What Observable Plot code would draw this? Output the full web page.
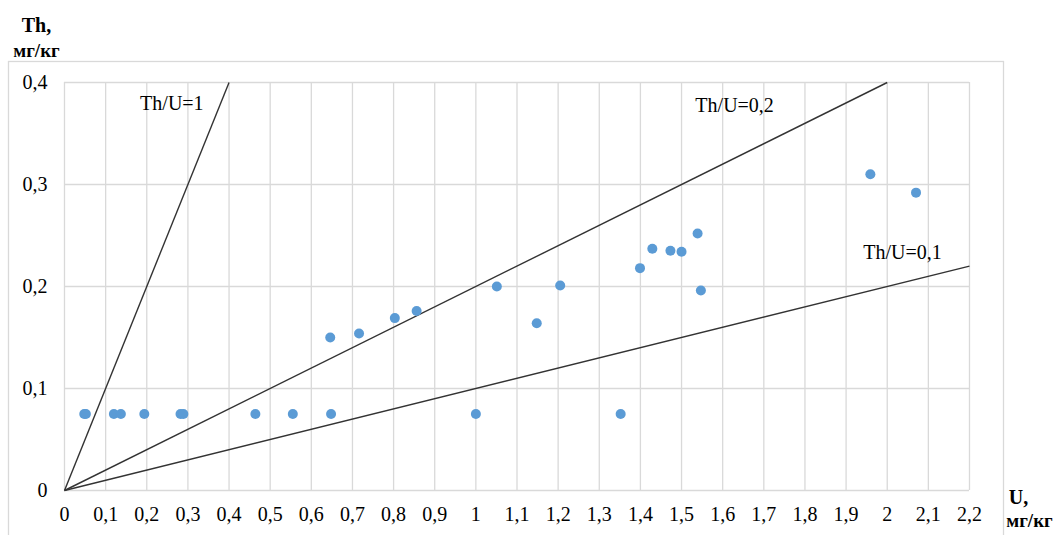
<!DOCTYPE html>
<html><head><meta charset="utf-8">
<script src="https://cdn.jsdelivr.net/npm/d3@7"></script>
<script src="https://cdn.jsdelivr.net/npm/@observablehq/plot@0.6"></script>
<style>body{margin:0;background:#fff;} svg{display:block}</style>
</head><body><div id="chart"></div>
<script>
// Sample values: U (mg/kg) and Th (mg/kg)
const uValues  = [0.048, 0.052, 0.120, 0.137, 0.194, 0.282, 0.289, 0.464, 0.555, 0.648, 1.000, 1.352,
                  0.646, 0.716, 0.803, 0.856, 1.051, 1.148, 1.205, 1.399, 1.429, 1.473, 1.500, 1.539, 1.547, 1.959, 2.070];
const thValues = [0.075, 0.075, 0.075, 0.075, 0.075, 0.075, 0.075, 0.075, 0.075, 0.075, 0.075, 0.075,
                  0.150, 0.154, 0.169, 0.176, 0.200, 0.164, 0.201, 0.218, 0.237, 0.235, 0.234, 0.252, 0.196, 0.310, 0.292];

// Reference ratio lines Th/U
const ratioNames  = ["Th/U=1", "Th/U=0,2", "Th/U=0,1"];
const ratioValues = [1, 0.2, 0.1];
const ratioEndU   = [0.4, 2.0, 2.2];
const ratioLabelU  = [0.261, 1.629, 2.037];
const ratioLabelTh = [0.379, 0.3775, 0.2337];

// Tick values
const xTicks = [0, 0.1, 0.2, 0.3, 0.4, 0.5, 0.6, 0.7, 0.8, 0.9, 1, 1.1, 1.2, 1.3, 1.4, 1.5, 1.6, 1.7, 1.8, 1.9, 2, 2.1, 2.2];
const yTicks = [0, 0.1, 0.2, 0.3, 0.4];

const fmt = d => d3.format(".1~f")(d).replace(".", ",");
const gridColor = "#d9d9d9";
const serif = "'Liberation Serif', 'Times New Roman', serif";

const chart = Plot.plot({
  width: 1056, height: 535,
  marginLeft: 64, marginRight: 87, marginTop: 82, marginBottom: 45,
  style: {fontFamily: serif, fontSize: "20px", color: "#000", background: "#fff", overflow: "visible"},
  x: {domain: [0, 2.2]},
  y: {domain: [0, 0.4]},
  marks: [
    Plot.frame({stroke: gridColor, strokeWidth: 1.3, insetLeft: -56, insetTop: -21, insetRight: -34, insetBottom: -70}),
    Plot.gridX(xTicks, {stroke: gridColor, strokeOpacity: 1, strokeWidth: 1.3}),
    Plot.gridY(yTicks, {stroke: gridColor, strokeOpacity: 1, strokeWidth: 1.3}),
    Plot.axisX(xTicks, {tickFormat: fmt, tickSize: 0, tickPadding: 16, fontSize: 20, fill: "#000", label: null}),
    Plot.axisY(yTicks, {tickFormat: fmt, tickSize: 0, tickPadding: 17, fontSize: 20, fill: "#000", label: null}),
    Plot.link(ratioNames, {
      x1: () => 0, y1: () => 0,
      x2: (d, i) => ratioEndU[i], y2: (d, i) => ratioEndU[i] * ratioValues[i],
      stroke: "#333", strokeWidth: 1.4
    }),
    Plot.text(ratioNames, {
      x: (d, i) => ratioLabelU[i], y: (d, i) => ratioLabelTh[i], text: d => d,
      fontSize: 20, fill: "#000", textAnchor: "middle"
    }),
    Plot.dot(uValues, {x: d => d, y: (d, i) => thValues[i], r: 5, fill: "#5B9BD5", stroke: "none"}),
    Plot.text(["Th,"], {frameAnchor: "top-left", lineAnchor: "middle", text: d => d, dx: -28, dy: -57, fontSize: 20, fontWeight: "bold", textAnchor: "middle", fill: "#000"}),
    Plot.text(["мг/кг"], {frameAnchor: "top-left", lineAnchor: "middle", text: d => d, dx: -28, dy: -32, fontSize: 19, fontWeight: "bold", textAnchor: "middle", fill: "#000"}),
    Plot.text(["U,"], {frameAnchor: "bottom-right", lineAnchor: "middle", text: d => d, dx: 49, dy: 7, fontSize: 20, fontWeight: "bold", textAnchor: "middle", fill: "#000"}),
    Plot.text(["мг/кг"], {frameAnchor: "bottom-right", lineAnchor: "middle", text: d => d, dx: 60, dy: 30, fontSize: 19, fontWeight: "bold", textAnchor: "middle", fill: "#000"})
  ]
});
document.getElementById("chart").append(chart);
</script>
</body></html>
